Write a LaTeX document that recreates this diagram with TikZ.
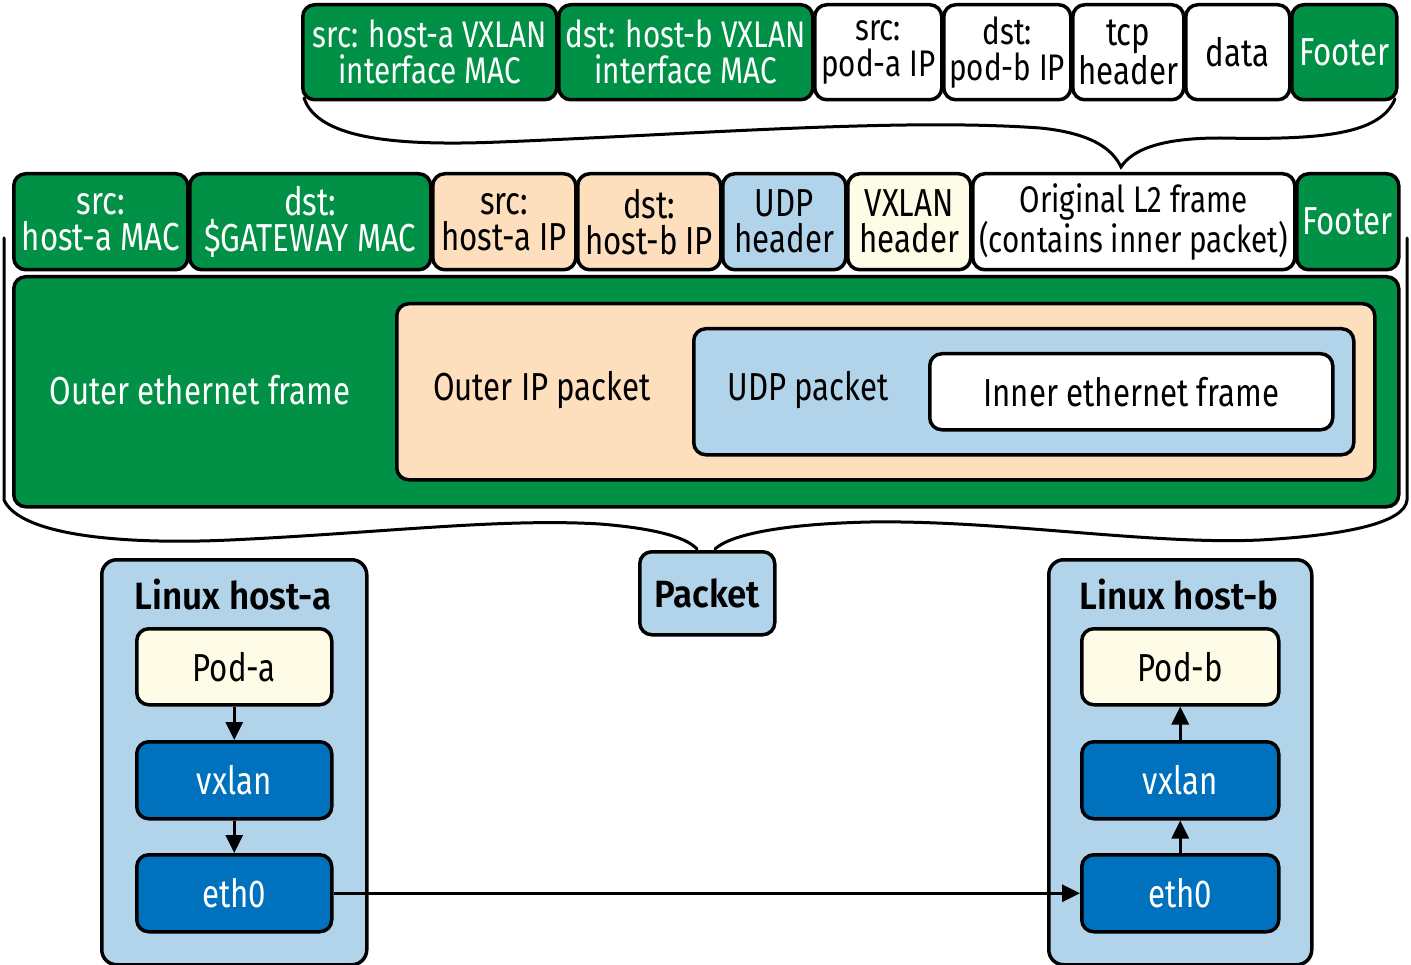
\documentclass[tikz,border=0pt]{standalone}
\usepackage{fontspec}
\setmainfont[FakeStretch=0.8]{Fira Sans}
\newfontfamily\hostfont[FakeStretch=0.92]{Fira Sans SemiBold}
\usetikzlibrary{arrows.meta}
\definecolor{ogreen}{RGB}{0,145,70}
\definecolor{opeach}{RGB}{253,222,189}
\definecolor{olblue}{RGB}{178,212,234}
\definecolor{ocream}{RGB}{254,251,230}
\definecolor{odblue}{RGB}{0,113,188}
\begin{document}
\begin{tikzpicture}[x=1pt,y=-1pt,
  every node/.style={font=\fontsize{39}{36}\selectfont},
  box/.style={draw, line width=3.5pt, rounded corners=12pt, align=center, inner sep=0pt, anchor=north west},
  wh/.style 2 args={minimum width=#1pt, minimum height=#2pt},
  gbox/.style={box, fill=ogreen, text=white},
  wbox/.style={box, fill=white},
  pbox/.style={box, fill=opeach},
  lbbox/.style={box, fill=olblue},
  cbox/.style={box, fill=ocream},
  dbbox/.style={box, fill=odblue, text=white},
  lbl/.style={inner sep=0pt},
  small/.style={font=\fontsize{37}{36}\selectfont},
  btitle/.style={font=\fontsize{38}{36}\hostfont},
  brace/.style={line width=3pt, line cap=round},
  arr/.style={line width=3pt, -{Triangle[length=18pt,width=17pt]}}]
\useasboundingbox (0,0) rectangle (1411,965);

% top row (inner frame)
\node[gbox, wh={254}{95}, small] (t1) at (301,3) {src: host-a VXLAN\\interface MAC};
\node[gbox, wh={254}{95}, small] (t2) at (557,3) {dst: host-b VXLAN\\interface MAC};
\node[wbox, wh={127}{95}, small] (t3) at (813,3) {src:\\pod-a IP};
\node[wbox, wh={127}{95}, small] (t4) at (942,3) {dst:\\pod-b IP};
\node[wbox, wh={111}{95}] (t5) at (1071,3) {tcp\\header};
\node[wbox, wh={104}{95}] (t6) at (1184,3) {data};
\node[gbox, wh={105}{95}] (t7) at (1290,3) {Footer};

% upper brace
\coordinate (ub1) at (304,98);
\coordinate (ubc) at (1121,167);
\coordinate (ub2) at (1395,99);
\draw[brace] (ub1) .. controls (318,140) and (400,146) .. (500,142)
  .. controls (700,134) and (900,118) .. (1040,128)
  .. controls (1090,133) and (1112,148) .. (ubc)
  .. controls (1132,150) and (1160,138) .. (1220,138)
  .. controls (1320,140) and (1380,135) .. (ub2);

% second row (outer packet)
\node[gbox, wh={174}{96}] (r1) at (12,172) {src:\\host-a MAC};
\node[gbox, wh={241}{96}] (r2) at (188,172) {dst:\\\$GATEWAY MAC};
\node[pbox, wh={143}{96}] (r3) at (431,172) {src:\\host-a IP};
\node[pbox, wh={143}{96}] (r4) at (576,172) {dst:\\host-b IP};
\node[lbbox, wh={123}{96}] (r5) at (721,172) {UDP\\header};
\node[cbox, wh={123}{96}] (r6) at (846,172) {VXLAN\\header};
\node[wbox, wh={322}{96}, small] (r7) at (971,172) {Original L2 frame\\(contains inner packet)};
\node[gbox, wh={102}{96}] (r8) at (1295,172) {Footer};

% nested frames
\node[gbox, wh={1385}{230}] (gf) at (12,275) {};
\node[pbox, wh={978}{176}] (pf) at (395,302) {};
\node[lbbox, wh={660}{126}] (uf) at (692,327) {};
\node[wbox, wh={403}{76}] (wf) at (928,352) {Inner ethernet frame};
\node[lbl, text=white] (gl) at (200,390) {Outer ethernet frame};
\node[lbl] (pl) at (542,390) {Outer IP packet};
\node[lbl] (ul) at (808,390) {UDP packet};

% packet
\node[lbbox, wh={135}{83}, btitle] (pk) at (638,550) {Packet};

% lower brace
\coordinate (lb1) at (4,238);
\coordinate (lb2) at (1407,238);
\coordinate (pkl) at (697,549);
\coordinate (pkr) at (715,549);
\draw[brace] (lb1) -- (4,500) .. controls (20,535) and (120,545) .. (230,540)
  .. controls (380,533) and (500,518) .. (600,524)
  .. controls (650,528) and (685,536) .. (pkl);
\draw[brace] (pkr) .. controls (730,535) and (780,524) .. (870,522)
  .. controls (1000,520) and (1150,545) .. (1260,540)
  .. controls (1350,535) and (1405,522) .. (1407,500) -- (lb2);

% hosts
\node[lbbox, wh={265}{405}, rounded corners=15pt] (ha) at (100,558) {};
\node[lbl, btitle] (hal) at (233,595) {Linux host-a};
\node[cbox, wh={195}{76}] (poda) at (135,627) {Pod-a};
\node[dbbox, wh={195}{77}] (vxa) at (135,740) {vxlan};
\node[dbbox, wh={195}{77}] (etha) at (135,853) {eth0};

\node[lbbox, wh={263}{405}, rounded corners=15pt] (hb) at (1047,558) {};
\node[lbl, btitle] (hbl) at (1179,595) {Linux host-b};
\node[cbox, wh={197}{76}] (podb) at (1080,627) {Pod-b};
\node[dbbox, wh={197}{77}] (vxb) at (1080,740) {vxlan};
\node[dbbox, wh={197}{77}] (ethb) at (1080,853) {eth0};

\draw[arr] (poda) -- (vxa);
\draw[arr] (vxa) -- (etha);
\draw[arr] (ethb) -- (vxb);
\draw[arr] (vxb) -- (podb);
\draw[arr] (etha) -- (ethb);
\end{tikzpicture}
\end{document}
